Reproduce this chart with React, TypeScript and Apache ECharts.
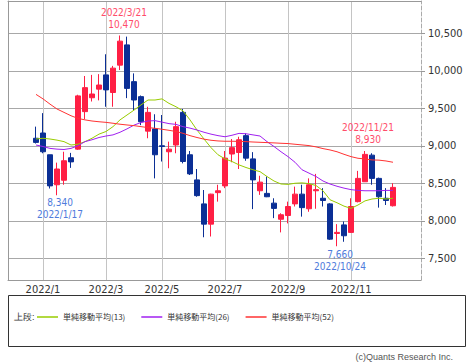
import React, { useEffect, useRef } from "react";
import * as echarts from "echarts";

// Weekly category axis (the plot spans a few empty weeks on both sides)
const axisWeeks: string[] = [
  "2021-11-29", "2021-12-06", "2021-12-13", "2021-12-20", "2021-12-27",
  "2022-01-03", "2022-01-10", "2022-01-17", "2022-01-24", "2022-01-31",
  "2022-02-07", "2022-02-14", "2022-02-21", "2022-02-28",
  "2022-03-07", "2022-03-14", "2022-03-21", "2022-03-28",
  "2022-04-04", "2022-04-11", "2022-04-18", "2022-04-25",
  "2022-05-02", "2022-05-09", "2022-05-16", "2022-05-23", "2022-05-30",
  "2022-06-06", "2022-06-13", "2022-06-20", "2022-06-27",
  "2022-07-04", "2022-07-11", "2022-07-18", "2022-07-25",
  "2022-08-01", "2022-08-08", "2022-08-15", "2022-08-22", "2022-08-29",
  "2022-09-05", "2022-09-12", "2022-09-19", "2022-09-26",
  "2022-10-03", "2022-10-10", "2022-10-17", "2022-10-24", "2022-10-31",
  "2022-11-07", "2022-11-14", "2022-11-21", "2022-11-28",
  "2022-12-05", "2022-12-12", "2022-12-19", "2022-12-26",
  "2023-01-02", "2023-01-09", "2023-01-16",
];
const firstCandleWeek = "2021-12-27";
// Weeks that carry a month label / vertical grid line
const labelWeeks = ["2022-01-03", "2022-03-07", "2022-05-02", "2022-07-04", "2022-09-05", "2022-11-07"];

// Candles (weekly), Dec 27 2021 .. Dec 19 2022
const opens = [
  9100, 9170, 8880, 8480, 8540, 8840, 8955, 9455, 9640, 9755,
  9945, 9710, 10075, 10345, 9855, 9655, 9195, 9225, 9000, 8920,
  9010, 9445, 8880, 8545, 8225, 7955, 8375, 8465, 8890, 8910,
  9135, 8825, 8400, 8365, 8235, 8020, 8070, 8225, 8355, 8160,
  8400, 8300, 8225, 7830, 7945, 7845, 8255, 8520, 8875, 8565,
  8300, 8200,
];
const closes = [
  9045, 8920, 8465, 8690, 8800, 8785, 9665, 9775, 9690, 9810,
  9745, 10035, 10395, 9765, 9610, 9320, 9445, 8880, 8990, 8955,
  9255, 8790, 8625, 8335, 7955, 8355, 8400, 8835, 8975, 9080,
  8835, 8545, 8515, 8320, 8165, 8080, 8190, 8355, 8175, 8480,
  8415, 8270, 7755, 7845, 7800, 8190, 8565, 8885, 8565, 8320,
  8270, 8445,
];
const lows = [
  9030, 8900, 8430, 8340, 8480, 8705, 8945, 9355, 9590, 9605,
  9520, 9520, 10010, 9635, 9475, 9275, 9100, 8565, 8790, 8700,
  8900, 8765, 8610, 8320, 7780, 7790, 8255, 8435, 8780, 8690,
  8800, 8155, 8345, 8315, 8035, 7845, 7965, 8190, 8055, 8120,
  8160, 8190, 7745, 7660, 7720, 7840, 8245, 8520, 8480, 8175,
  8210, 8190,
];
const highs = [
  9255, 9435, 8880, 8775, 8920, 8905, 9680, 9930, 9945, 9955,
  10220, 10065, 10470, 10455, 9965, 9670, 9520, 9420, 9410, 9055,
  9320, 9490, 8930, 8690, 8410, 8360, 8480, 8930, 9090, 9120,
  9165, 8915, 8600, 8590, 8300, 8100, 8255, 8455, 8480, 8565,
  8625, 8435, 8235, 7955, 7990, 8300, 8665, 8930, 8900, 8575,
  8435, 8500,
];

// Simple moving averages
const sma13 = [
  9090, 9100, 9090, 9075, 9055, 9010, 9020, 9055, 9100, 9155,
  9190, 9255, 9345, 9410, 9475, 9545, 9610, 9610, 9625, 9565,
  9520, 9465, 9345, 9210, 9090, 8975, 8880, 8825, 8790, 8745,
  8710, 8680, 8655, 8590, 8530, 8490, 8485, 8500, 8505, 8495,
  8470, 8400, 8280, 8240, 8195, 8165, 8210, 8265, 8290, 8300,
  8290, 8300,
];
const sma26 = [
  9010, 8990, 8965, 8955, 8950, 8965, 9000, 9055, 9080, 9110,
  9130, 9145, 9180, 9225, 9275, 9310, 9330, 9335, 9315, 9295,
  9285, 9255, 9235, 9210, 9180, 9155, 9135, 9120, 9140, 9165,
  9160, 9145, 9130, 9055, 8990, 8920, 8855, 8780, 8680, 8635,
  8590, 8530, 8490, 8460, 8435, 8415, 8405, 8400, 8400, 8400,
  8405, 8405,
];
const sma52 = [
  9685, 9625, 9555, 9490, 9445, 9400, 9365, 9345, 9330, 9320,
  9312, 9300, 9287, 9277, 9268, 9255, 9242, 9233, 9220, 9206,
  9190, 9166, 9135, 9110, 9088, 9073, 9064, 9060, 9060, 9058,
  9055, 9050, 9046, 9042, 9038, 9033, 9029, 9020, 9011, 9002,
  8985, 8962, 8944, 8920, 8886, 8855, 8833, 8824, 8811, 8808,
  8797, 8780,
];

const yTicks = [7500, 8000, 8500, 9000, 9500, 10000, 10500];
const seriesNames = ["単純移動平均(13)", "単純移動平均(26)", "単純移動平均(52)"];
const lineColors = ["#99cc00", "#a020f0", "#ff3333"];

const UP = "#ff1f44";
const DOWN = "#0b2f95";
const ANN_RED = "#ff4d6a";
const ANN_BLUE = "#4f7bdc";
const NARROW = "'Liberation Sans Narrow', 'DejaVu Sans Condensed', 'Noto Sans', sans-serif";
const CJK = "'Noto Sans CJK JP', sans-serif";

const fmt = (v: number) => v.toLocaleString("en-US");

export default function App() {
  const ref = useRef<HTMLDivElement>(null);

  useEffect(() => {
    document.body.style.margin = "0";
    document.body.style.overflow = "hidden";
    if (!ref.current) return;
    const chart = echarts.init(ref.current, undefined, { renderer: "svg" });

    const start = axisWeeks.indexOf(firstCandleWeek);
    const pad = (arr: any[]) => {
      const out: any[] = [];
      for (let i = 0; i < axisWeeks.length; i++) {
        const j = i - start;
        out.push(j >= 0 && j < arr.length ? arr[j] : "-");
      }
      return out;
    };
    const candles = pad(opens.map((o, i) => [o, closes[i], lows[i], highs[i]]));

    const isMonthMark = (_idx: number, val: string) => labelWeeks.indexOf(val) >= 0;

    const ann = (
      date: string,
      value: number,
      text: string,
      pos: "top" | "bottom",
      color: string,
      distance: number,
      offsetX: number
    ) => ({
      coord: [date, value],
      label: {
        show: true,
        position: pos,
        distance,
        offset: [offsetX, 0],
        formatter: text,
        color,
        fontSize: 10,
        lineHeight: 12,
        fontFamily: NARROW,
      },
    });

    chart.setOption({
      animation: false,
      grid: { left: 8, right: 50, top: 1, bottom: 82, show: false },
      xAxis: [
        {
          type: "category",
          data: axisWeeks,
          boundaryGap: false,
          axisLine: { show: true, onZero: false, lineStyle: { color: "#999", width: 1 } },
          axisTick: { show: false },
          axisLabel: {
            interval: isMonthMark,
            formatter: (v: string) => {
              const [y, m] = v.split("-");
              return `${y}/${parseInt(m, 10)}`;
            },
            color: "#333",
            fontSize: 11,
            margin: 4,
            fontFamily: NARROW,
          },
          splitLine: {
            show: true,
            interval: isMonthMark,
            lineStyle: { color: "#c4c4c4", width: 1 },
          },
        },
        {
          type: "category",
          data: axisWeeks,
          boundaryGap: false,
          position: "top",
          axisLine: { show: true, onZero: false, lineStyle: { color: "#999", width: 1 } },
          axisTick: { show: false },
          axisLabel: { show: false },
          splitLine: { show: false },
        },
      ],
      yAxis: [
        {
          type: "value",
          position: "right",
          min: 7210,
          max: 10930,
          axisLine: { show: true, lineStyle: { color: "#aaa", type: "dashed", width: 1 } },
          axisTick: {
            show: true,
            length: 4,
            customValues: yTicks,
            lineStyle: { color: "#999" },
          },
          axisLabel: {
            customValues: yTicks,
            formatter: (v: number) => fmt(v),
            color: "#333",
            fontSize: 11,
            margin: 7,
            fontFamily: NARROW,
          },
          splitLine: { show: true, lineStyle: { color: "#a8a8a8", width: 1 } },
        },
        {
          type: "value",
          position: "left",
          axisLine: { show: true, onZero: false, lineStyle: { color: "#999", width: 1 } },
          axisTick: { show: false },
          axisLabel: { show: false },
          splitLine: { show: false },
        },
      ],
      legend: {
        left: 37,
        top: 313,
        padding: 0,
        icon: "rect",
        itemWidth: 21,
        itemHeight: 1.5,
        itemGap: 16,
        data: seriesNames,
        textStyle: { fontSize: 8, color: "#333", fontFamily: CJK },
      },
      graphic: [
        {
          type: "rect",
          shape: { x: 8.5, y: 295.5, width: 457, height: 51 },
          style: { fill: "none", stroke: "#333", lineWidth: 1 },
          silent: true,
        },
        {
          type: "text",
          left: 14,
          top: 312,
          style: { text: "上段:", fontSize: 9, fill: "#333", font: `9px ${CJK}` },
          silent: true,
        },
        {
          type: "text",
          right: 18,
          top: 352,
          style: {
            text: "(c)Quants Research Inc.",
            fontSize: 9,
            fill: "#555",
            font: `9px ${NARROW}`,
          },
          silent: true,
        },
      ],
      series: [
        {
          type: "candlestick",
          name: "price",
          data: candles,
          barWidth: 5,
          itemStyle: {
            color: UP,
            color0: DOWN,
            borderColor: UP,
            borderColor0: DOWN,
            borderWidth: 1,
          },
          markPoint: {
            symbol: "circle",
            symbolSize: 0.1,
            itemStyle: { color: "rgba(0,0,0,0)" },
            silent: true,
            data: [
              ann("2022-03-21", 10470, "2022/3/21\n10,470", "top", ANN_RED, 5, 4),
              ann("2022-01-17", 8340, "8,340\n2022/1/17", "bottom", ANN_BLUE, 1, 3),
              ann("2022-11-21", 8930, "2022/11/21\n8,930", "top", ANN_RED, 5, 3),
              ann("2022-10-24", 7660, "7,660\n2022/10/24", "bottom", ANN_BLUE, 2, 3),
            ],
          },
        },
        {
          type: "line",
          name: seriesNames[0],
          data: pad(sma13),
          symbol: "none",
          lineStyle: { color: lineColors[0], width: 1 },
          itemStyle: { color: lineColors[0] },
        },
        {
          type: "line",
          name: seriesNames[1],
          data: pad(sma26),
          symbol: "none",
          lineStyle: { color: lineColors[1], width: 1 },
          itemStyle: { color: lineColors[1] },
        },
        {
          type: "line",
          name: seriesNames[2],
          data: pad(sma52),
          symbol: "none",
          lineStyle: { color: lineColors[2], width: 1 },
          itemStyle: { color: lineColors[2] },
        },
      ],
    });

    return () => chart.dispose();
  }, []);

  return <div ref={ref} style={{ width: 471, height: 362 }} />;
}
